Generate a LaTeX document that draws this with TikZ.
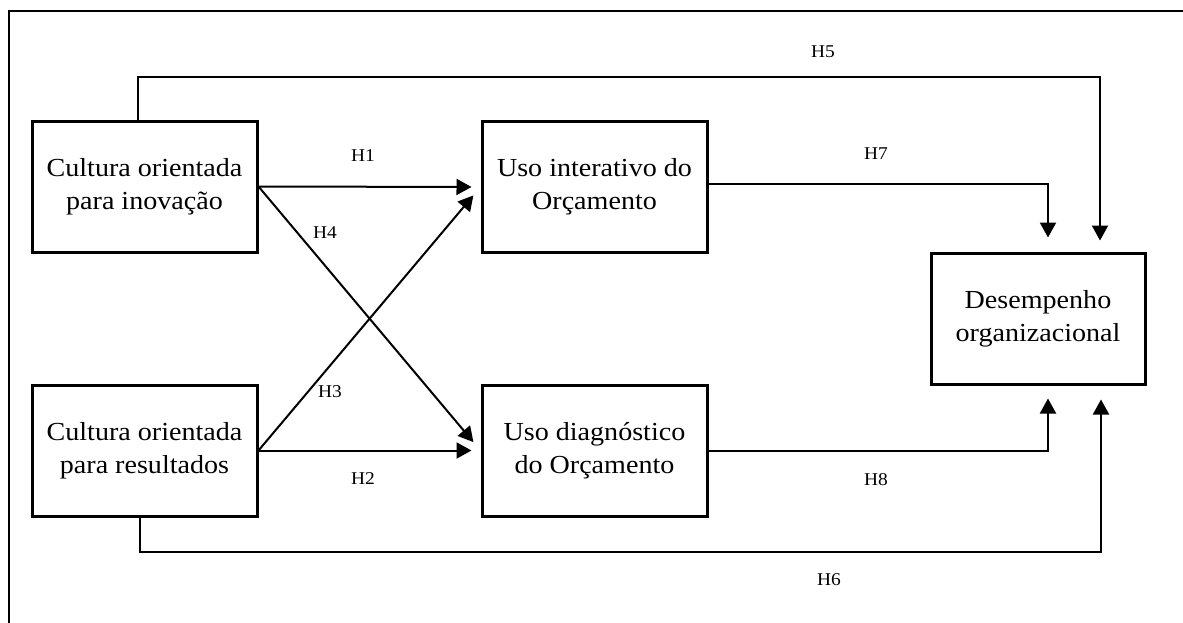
\documentclass[tikz,border=0pt]{standalone}
\usepackage{fontspec}
\setmainfont{Liberation Serif}[FakeStretch=1.08]
\usetikzlibrary{arrows.meta}

\tikzset{
	box/.style={draw, line width=3pt, minimum width=225pt, minimum height=131pt, inner sep=0pt, align=center, font=\fontsize{26}{33}\selectfont},
	link/.style={line width=2pt, -{Triangle[length=15pt,width=16pt]}},
	hlabel/.style={font=\fontsize{18}{20}\selectfont}
}

\begin{document}
\begin{tikzpicture}[x=1pt, y=-1pt]
			%%%%% START %%%%%
			\useasboundingbox (0,0) rectangle (1183,622);
			
			% outer frame
			\draw[line width=2pt] (9,640) -- (9,11) -- (1200,11);
			
			% constructs
			\node[box] (inov) at (144.5,186.5) {Cultura orientada\\para inovação};
			\node[box] (result) at (144.5,450.5) {Cultura orientada\\para resultados};
			\node[box] (inter) at (594.5,187) {Uso interativo do\\Orçamento};
			\node[box] (diag) at (594.5,450.5) {Uso diagnóstico\\do Orçamento};
			\node[box, minimum width=214pt] (desemp) at (1038,318.5) {Desempenho\\organizacional};
			
			% hypotheses
			\draw[link, shorten >=9pt] (inov.east) -- (inter.west);
			\draw[link, shorten >=9pt] (result.east) -- (diag.west);
			\draw[link, shorten >=11pt] (inov.east) -- (diag.west);
			\draw[link, shorten >=11pt] (result.east) -- (inter.west);
			
			\draw[link, shorten >=11pt] ([xshift=-7pt]inov.north) -- ++(0,-43) -| ([xshift=62pt]desemp.north);
			\draw[link, shorten >=14pt] ([xshift=-5pt]result.south) -- ++(0,34) -| ([xshift=63pt]desemp.south);
			
			\draw[link, shorten >=14pt] ([yshift=3pt]inter.east) -| ([xshift=10pt]desemp.north);
			\draw[link, shorten >=13pt] (diag.east) -| ([xshift=10pt]desemp.south);
			
			% labels
			\node[hlabel] (h1) at (363,156) {H1};
			\node[hlabel] (h2) at (363,479) {H2};
			\node[hlabel] (h3) at (330,392) {H3};
			\node[hlabel] (h4) at (325,233) {H4};
			\node[hlabel] (h5) at (823,52) {H5};
			\node[hlabel] (h6) at (829,580) {H6};
			\node[hlabel] (h7) at (876,154) {H7};
			\node[hlabel] (h8) at (876,480) {H8};
			
			%%%%% END %%%%%
		\end{tikzpicture}
\end{document}
